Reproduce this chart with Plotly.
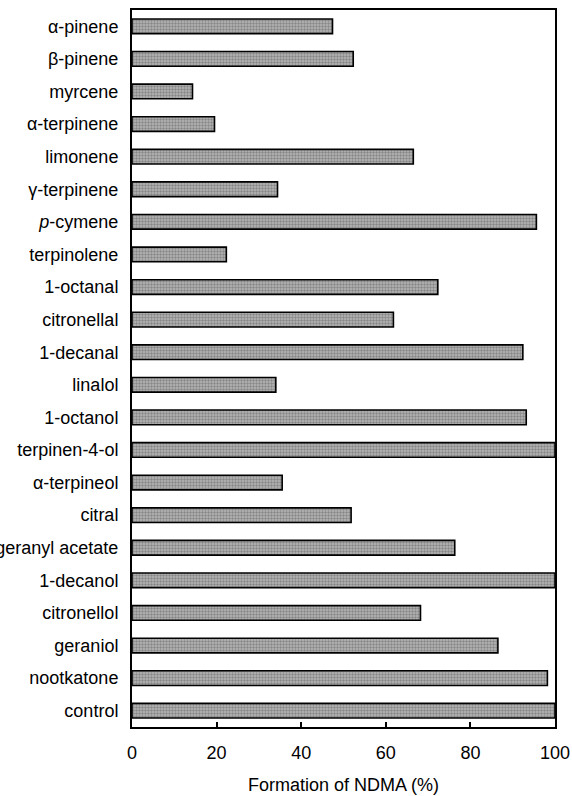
import plotly.graph_objects as go

categories = [
    "α-pinene", "β-pinene", "myrcene", "α-terpinene", "limonene",
    "γ-terpinene", "<i>p</i>-cymene", "terpinolene", "1-octanal", "citronellal",
    "1-decanal", "linalol", "1-octanol", "terpinen-4-ol", "α-terpineol",
    "citral", "geranyl acetate", "1-decanol", "citronellol", "geraniol",
    "nootkatone", "control",
]
ndma_formation = [
    47.4, 52.3, 14.3, 19.5, 66.5,
    34.4, 95.6, 22.3, 72.3, 61.8,
    92.4, 34.0, 93.2, 100, 35.5,
    51.8, 76.3, 100, 68.2, 86.5,
    98.2, 100,
]
x_ticks = [0, 20, 40, 60, 80, 100]
x_title = "Formation of NDMA (%)"

fig = go.Figure()
fig.add_trace(go.Bar(
    x=ndma_formation,
    y=categories,
    orientation="h",
    width=0.45,
    marker=dict(
        color="#a0a0a0",
        line=dict(color="black", width=1.6),
        pattern=dict(shape=".", fgcolor="#555555", bgcolor="#b8b8b8", size=3, solidity=0.5),
    ),
    showlegend=False,
))

font_family = "Liberation Sans, Arial, Helvetica, sans-serif"
fig.update_layout(
    width=572, height=796,
    margin=dict(l=131.5, r=16.5, t=9.5, b=68.5),
    paper_bgcolor="white", plot_bgcolor="white",
    font=dict(family=font_family, size=18, color="black"),
)
fig.update_xaxes(
    range=[0, 100],
    tickvals=x_ticks,
    ticks="inside", ticklen=5, tickwidth=1.5, tickcolor="black",
    showline=True, linecolor="black", linewidth=2, mirror=True,
    showgrid=False, zeroline=False,
    automargin=False,
    ticklabelstandoff=8,
    title=dict(text=x_title, font=dict(size=18), standoff=17),
    tickfont=dict(size=18),
)
fig.update_yaxes(
    autorange="reversed",
    ticks="", showline=True, linecolor="black", linewidth=2, mirror=True,
    showgrid=False, zeroline=False,
    automargin=False,
    tickfont=dict(size=18),
    ticklabelstandoff=8,
)

fig.write_html(
    "out.html",
    config={"displayModeBar": False},
    post_script="document.body.style.margin='0';document.documentElement.style.overflow='hidden';",
)
